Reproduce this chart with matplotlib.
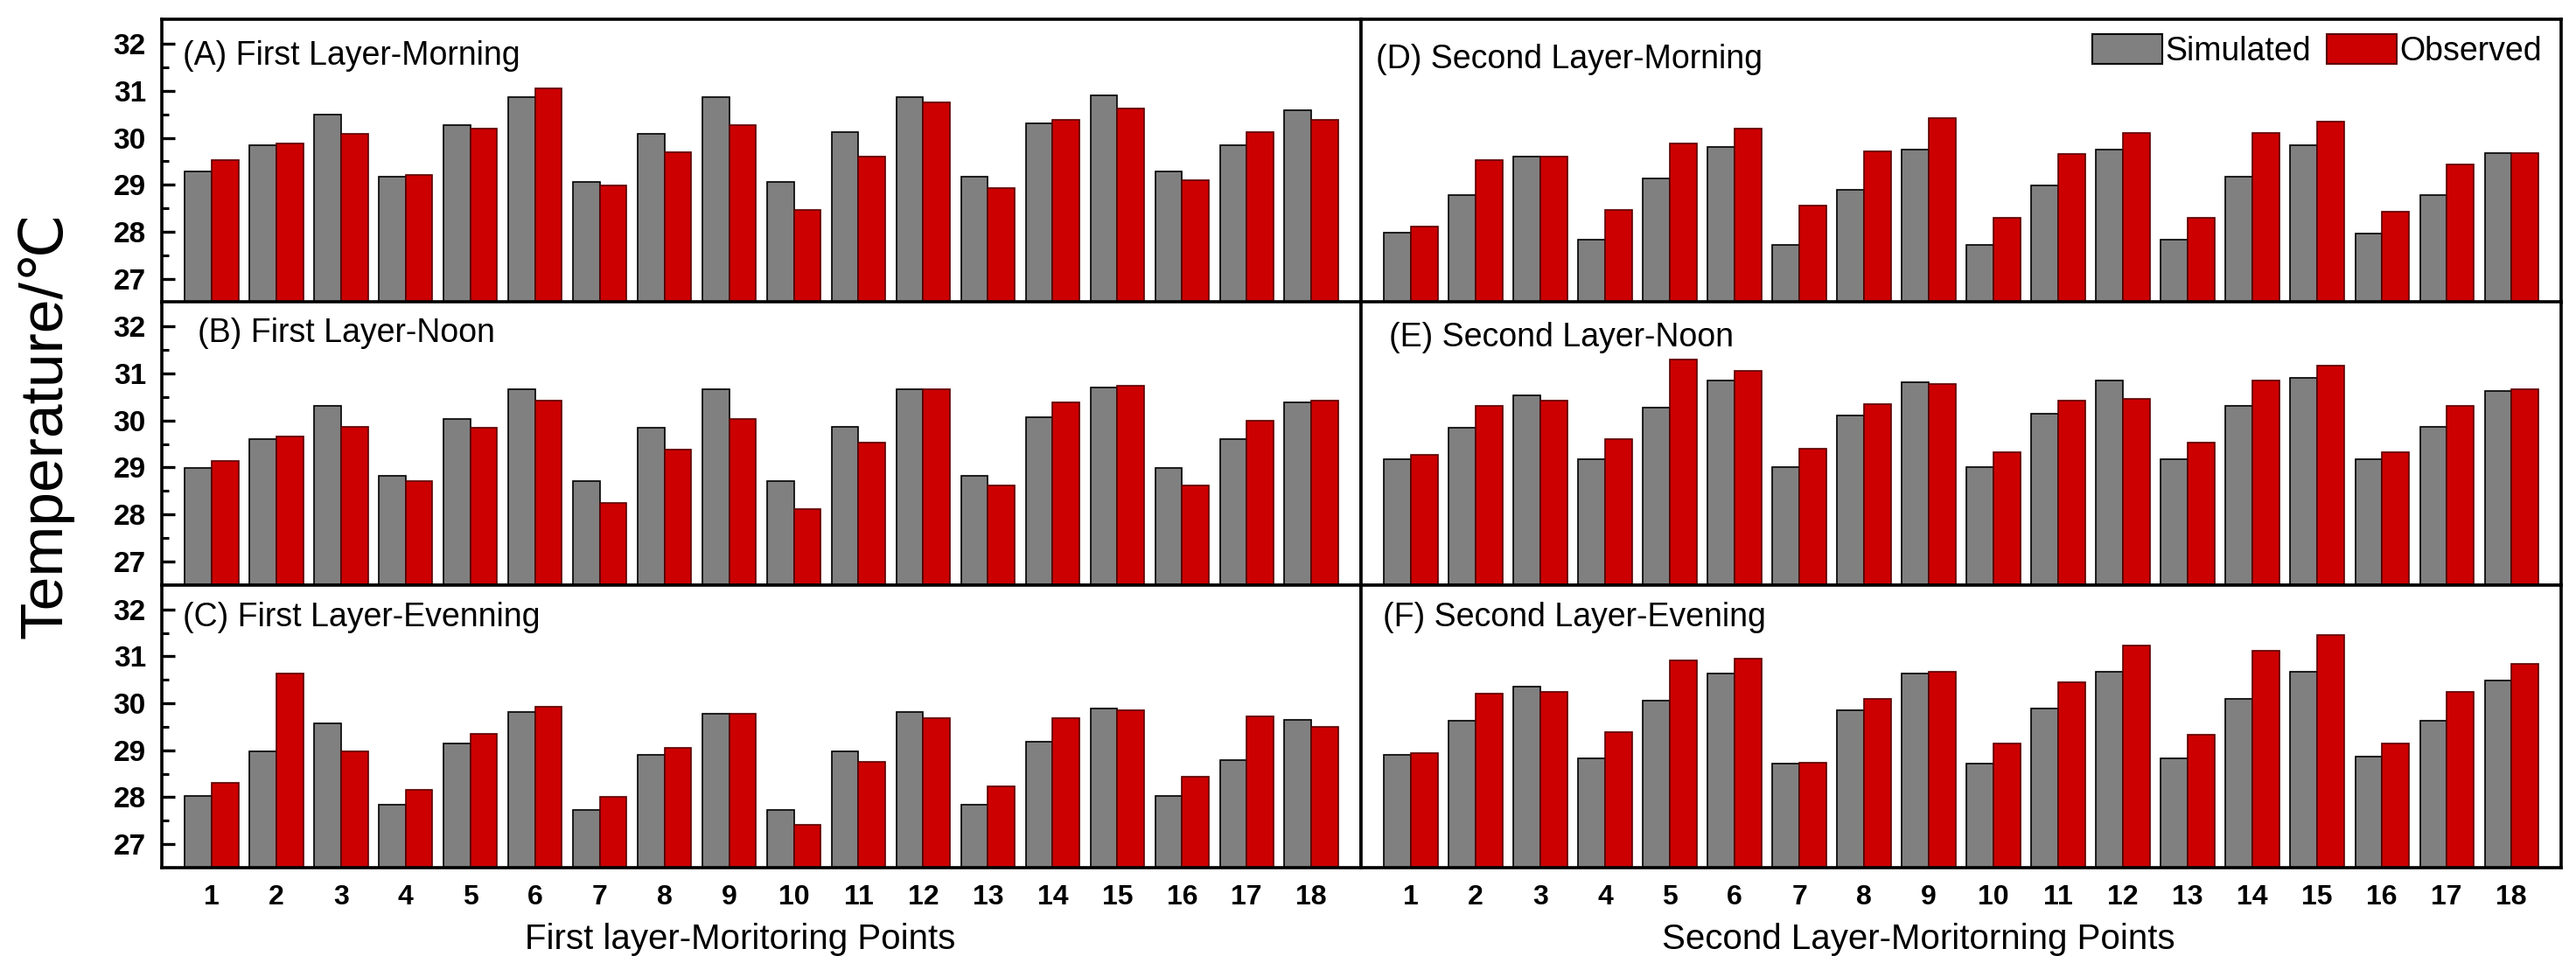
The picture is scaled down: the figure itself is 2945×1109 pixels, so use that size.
import numpy as np
import matplotlib
matplotlib.use("Agg")
import matplotlib.pyplot as plt
from matplotlib.patches import Patch

plt.rcParams['font.family'] = ['Liberation Sans', 'DejaVu Sans']

points = np.arange(1, 19)
tick_labels = [str(i) for i in points]

A_sim = [29.29, 29.84, 30.50, 29.17, 30.27, 30.86, 29.06, 30.08, 30.86, 29.06, 30.12, 30.86, 29.17, 30.31, 30.90, 29.29, 29.84, 30.58]
A_obs = [29.53, 29.88, 30.08, 29.22, 30.20, 31.06, 28.99, 29.69, 30.27, 28.47, 29.61, 30.75, 28.94, 30.39, 30.63, 29.09, 30.12, 30.39]

B_sim = [28.98, 29.60, 30.31, 28.82, 30.04, 30.66, 28.70, 29.84, 30.66, 28.70, 29.87, 30.66, 28.82, 30.07, 30.70, 28.98, 29.60, 30.39]
B_obs = [29.13, 29.65, 29.87, 28.70, 29.84, 30.43, 28.25, 29.37, 30.04, 28.12, 29.52, 30.66, 28.62, 30.39, 30.74, 28.62, 29.99, 30.43]

C_sim = [28.03, 28.98, 29.57, 27.84, 29.14, 29.81, 27.73, 28.91, 29.77, 27.73, 28.98, 29.81, 27.84, 29.18, 29.89, 28.03, 28.79, 29.65]
C_obs = [28.31, 30.64, 28.98, 28.16, 29.34, 29.93, 28.00, 29.05, 29.77, 27.41, 28.75, 29.69, 28.24, 29.69, 29.85, 28.43, 29.73, 29.50]

D_sim = [27.99, 28.78, 29.60, 27.84, 29.13, 29.80, 27.72, 28.90, 29.76, 27.72, 28.98, 29.76, 27.84, 29.17, 29.84, 27.96, 28.78, 29.68]
D_obs = [28.12, 29.52, 29.60, 28.47, 29.88, 30.19, 28.55, 29.72, 30.43, 28.30, 29.65, 30.11, 28.30, 30.11, 30.35, 28.43, 29.44, 29.68]

E_sim = [29.17, 29.84, 30.54, 29.17, 30.27, 30.85, 29.01, 30.11, 30.82, 29.01, 30.15, 30.85, 29.17, 30.31, 30.90, 29.17, 29.87, 30.62]
E_obs = [29.26, 30.31, 30.43, 29.60, 31.29, 31.05, 29.40, 30.35, 30.78, 29.33, 30.43, 30.46, 29.52, 30.85, 31.17, 29.33, 30.31, 30.66]

F_sim = [28.91, 29.62, 30.36, 28.82, 30.05, 30.64, 28.71, 29.85, 30.64, 28.71, 29.89, 30.67, 28.82, 30.09, 30.67, 28.86, 29.62, 30.48]
F_obs = [28.94, 30.21, 30.24, 29.38, 30.92, 30.95, 28.74, 30.09, 30.67, 29.14, 30.44, 31.23, 29.33, 31.11, 31.46, 29.14, 30.24, 30.84]

titles = ["(A) First Layer-Morning", "(B) First Layer-Noon", "(C) First Layer-Evenning",
          "(D) Second Layer-Morning", "(E) Second Layer-Noon", "(F) Second Layer-Evening"]
series = [(A_sim, A_obs), (B_sim, B_obs), (C_sim, C_obs),
          (D_sim, D_obs), (E_sim, E_obs), (F_sim, F_obs)]
title_pos = [(0.0175, 0.839), (0.030, 0.858), (0.0175, 0.853),
             (0.0124, 0.827), (0.0233, 0.842), (0.0179, 0.853)]

GRAY = '#808080'
RED = '#CC0000'
GRAY_EDGE = 'black'
RED_EDGE = '#5a0000'

fig = plt.figure(figsize=(29.45, 11.09), dpi=100)

col_x = [0.0628, 0.5284]
col_w = [0.4656, 0.4659]
row_y = [0.6884, 0.3971, 0.1055]
row_h = 0.2915

w = 0.415
for i, (sim, obs) in enumerate(series):
    col = i // 3
    row = i % 3
    ax = fig.add_axes([col_x[col], row_y[row], col_w[col], row_h])
    ax.bar(points - w / 2, sim, width=w, color=GRAY, edgecolor=GRAY_EDGE, linewidth=1.2, zorder=2)
    ax.bar(points + w / 2, obs, width=w, color=RED, edgecolor=RED_EDGE, linewidth=1.2, zorder=2)
    ax.set_ylim(26.5, 32.52)
    ax.set_xlim(0.23, 18.77)
    for sp in ax.spines.values():
        sp.set_linewidth(2.6)
        sp.set_zorder(5)
    ax.set_xticks(points)
    ax.tick_params(axis='x', length=0, pad=14)
    if row == 2:
        ax.set_xticklabels(tick_labels, fontsize=23, fontweight='bold')
    else:
        ax.set_xticklabels([])
    if col == 0:
        ax.set_yticks([27, 28, 29, 30, 31, 32])
        ax.set_yticks(np.arange(27.5, 32.5, 1.0), minor=True)
        ax.tick_params(axis='y', which='major', direction='in', length=11, width=2.4, pad=13)
        ax.tick_params(axis='y', which='minor', direction='in', length=6, width=2.2)
        for lab in ax.get_yticklabels():
            lab.set_fontsize(24)
            lab.set_fontweight('bold')
    else:
        ax.set_yticks([])
    tx, ty = title_pos[i]
    ax.text(tx, ty, titles[i], transform=ax.transAxes, fontsize=27,
            ha='left', va='baseline', color='black', zorder=6)
    if i == 3:
        handles = [Patch(facecolor=GRAY, edgecolor=GRAY_EDGE, linewidth=1.5, label='Simulated'),
                   Patch(facecolor=RED, edgecolor=RED_EDGE, linewidth=1.5, label='Observed')]
        ax.legend(handles=handles, ncol=2, loc='upper right', bbox_to_anchor=(0.984, 0.947),
                  frameon=False, fontsize=27, handlelength=2.13, handleheight=1.01,
                  handletextpad=0.1, columnspacing=0.48, borderpad=0, borderaxespad=0)

fig.text(0.2873, 1 - 1085 / 1109, "First layer-Moritoring Points", fontsize=29,
         ha='center', va='baseline')
fig.text(0.7447, 1 - 1085 / 1109, "Second Layer-Moritorning Points", fontsize=29,
         ha='center', va='baseline')
fig.text(0.0177, 1 - 730 / 1109, "Temperature/\u2103", fontsize=50, rotation=90,
         ha='center', va='bottom', family=['Liberation Sans', 'DejaVu Sans'])

fig.savefig("out.png", dpi=100)
